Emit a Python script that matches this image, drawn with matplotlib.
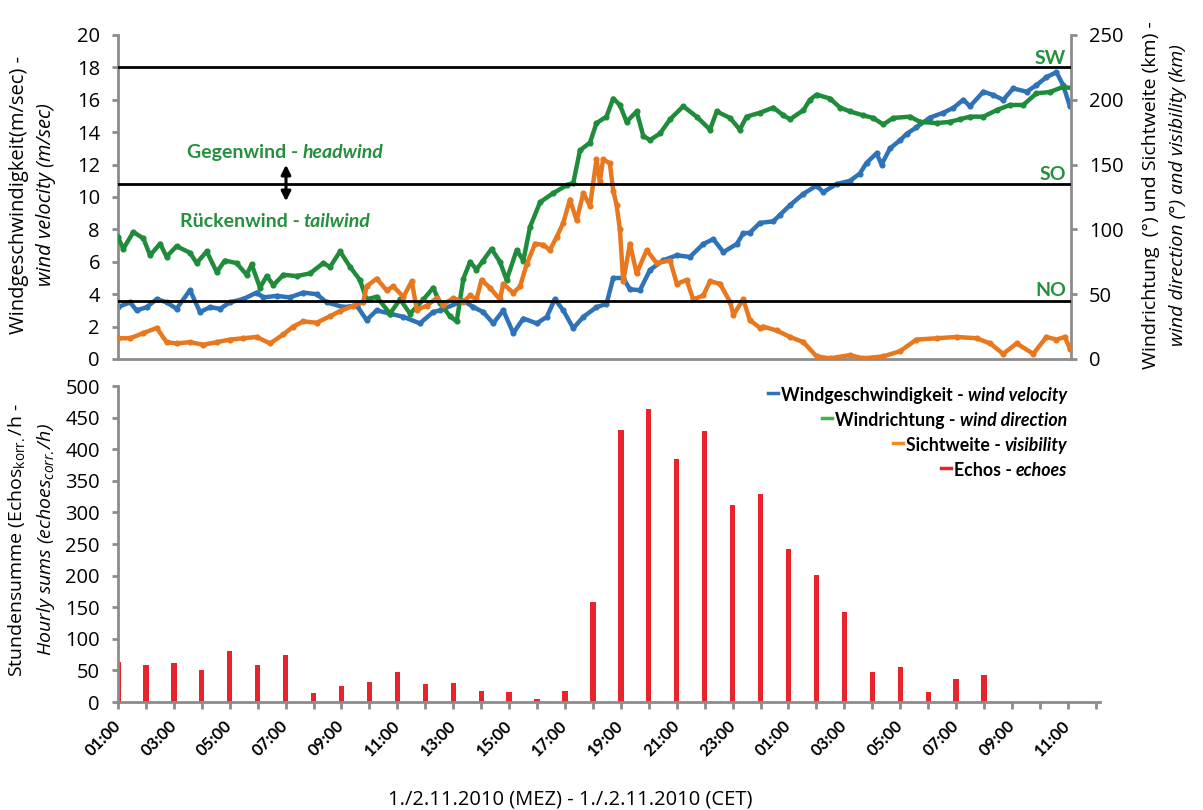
import matplotlib
matplotlib.use("Agg")
import matplotlib.pyplot as plt
from matplotlib.patches import FancyArrowPatch
import numpy as np

# ---- data -----------------------------------------------------------------
# hours counted from 01:00 on 1.11.2010
speed_h = [0.0, 0.43, 0.67, 1.03, 1.39, 1.74, 2.10, 2.58, 2.94, 3.30, 3.66, 4.01,
           4.49, 4.97, 5.21, 5.69, 6.16, 6.64, 7.12, 7.48, 8.08, 8.56, 8.91, 9.27,
           9.75, 10.23, 10.82, 11.30, 11.54, 12.38, 12.74, 13.09, 13.45, 13.81,
           14.17, 14.53, 15.01, 15.37, 15.66, 15.96, 16.32, 16.68, 17.15, 17.51,
           17.75, 18.11, 18.35, 18.71, 19.07, 19.55, 20.03, 20.50, 20.98, 21.34,
           21.70, 22.18, 22.41, 22.65, 23.01, 23.49, 23.73, 24.09, 24.57, 25.04,
           25.28, 25.76, 26.24, 26.59, 26.83, 27.19, 27.37, 27.67, 28.03, 28.27,
           28.62, 29.10, 29.58, 29.94, 30.30, 30.54, 31.02, 31.37, 31.73, 32.09,
           32.57, 32.92, 33.28, 33.64, 33.88, 34.12]
speed_ms = [3.2, 3.5, 3.0, 3.2, 3.7, 3.5, 3.1, 4.25, 2.9, 3.2, 3.1, 3.5,
            3.7, 4.1, 3.8, 3.9, 3.8, 4.1, 4.0, 3.5, 3.2, 3.3, 2.4, 3.0,
            2.8, 2.6, 2.2, 2.9, 3.0, 3.6, 3.2, 2.9, 2.2, 3.0,
            1.6, 2.5, 2.2, 2.6, 3.7, 3.0, 1.9, 2.6, 3.2, 3.4,
            5.0, 5.0, 4.3, 4.25, 5.5, 6.1, 6.4, 6.3, 7.1, 7.4,
            6.6, 7.1, 7.75, 7.8, 8.4, 8.5, 8.9, 9.5, 10.2, 10.7,
            10.3, 10.8, 11.0, 11.45, 12.1, 12.7, 12.0, 13.0, 13.5, 13.9,
            14.3, 14.9, 15.2, 15.5, 16.0, 15.6, 16.5, 16.3, 16.0, 16.7,
            16.5, 16.9, 17.4, 17.7, 16.9, 15.6]

dir_h = [0.0, 0.19, 0.55, 0.91, 1.15, 1.51, 1.74, 2.10, 2.58, 2.82, 3.18, 3.54,
         3.83, 4.25, 4.61, 4.79, 5.09, 5.33, 5.57, 5.93, 6.40, 6.88, 7.36, 7.60,
         7.96, 8.32, 8.67, 8.91, 9.27, 9.75, 10.11, 10.47, 10.95, 11.30, 11.54,
         11.90, 12.14, 12.38, 12.62, 12.85, 13.09, 13.39, 13.69, 13.93, 14.29,
         14.53, 14.77, 15.13, 15.60, 16.08, 16.32, 16.56, 16.92, 17.15, 17.51,
         17.75, 17.99, 18.23, 18.59, 18.83, 19.07, 19.43, 19.79, 20.26, 20.74,
         21.22, 21.46, 21.94, 22.29, 22.53, 23.01, 23.49, 23.85, 24.09, 24.57,
         24.80, 25.04, 25.52, 25.88, 26.24, 26.71, 27.07, 27.43, 27.79, 28.39,
         28.74, 29.34, 29.82, 30.18, 30.54, 31.02, 31.49, 31.97, 32.45, 32.92,
         33.40, 33.88, 34.18]
dir_deg = [94, 85, 98, 93, 80, 89, 79, 87, 82, 74, 83, 67,
           76, 74, 65, 73, 55, 64, 57, 65, 64, 66, 74, 71,
           83, 71, 61, 46, 48, 35, 46, 35, 46, 55, 43,
           33, 29, 62, 75, 69, 76, 85, 75, 61, 84,
           76, 102, 121, 128, 134, 136, 161, 167, 182, 187,
           201, 196, 183, 191, 172, 169, 174, 185, 195, 187,
           177, 191, 186, 177, 187, 190, 194, 188, 185, 192,
           200, 204, 201, 194, 191, 188, 186, 181, 186, 187,
           183, 182, 183, 185, 187, 187, 192, 196, 196, 205,
           206, 210, 209]

vis_h = [0.0, 0.43, 0.91, 1.39, 1.74, 2.10, 2.58, 3.06, 3.54, 4.01, 4.49, 4.97,
         5.45, 5.93, 6.28, 6.64, 7.12, 7.60, 7.96, 8.44, 8.79, 8.91, 9.27, 9.63,
         9.87, 10.23, 10.53, 10.71, 11.06, 11.42, 11.66, 12.02, 12.38, 12.62,
         12.85, 13.03, 13.33, 13.69, 13.81, 14.17, 14.41, 14.65, 14.95, 15.25,
         15.48, 15.72, 15.96, 16.20, 16.44, 16.68, 16.92, 17.15, 17.27, 17.39,
         17.63, 17.75, 17.87, 17.99, 18.11, 18.35, 18.59, 18.95, 19.31, 19.79,
         20.03, 20.38, 20.62, 20.98, 21.22, 21.58, 21.94, 22.06, 22.41, 22.65,
         23.01, 23.13, 23.61, 24.09, 24.57, 25.04, 25.52, 26.24, 26.71, 27.43,
         28.03, 28.62, 29.34, 30.06, 30.78, 31.26, 31.73, 32.21, 32.81, 33.28,
         33.64, 33.94, 34.12]
vis_km = [16, 16, 20, 24, 13, 12, 13, 11, 13, 15, 16, 17,
          12, 19, 25, 29, 28, 33, 37, 41, 44, 56, 62, 53,
          56, 48, 60, 38, 41, 47, 42, 47, 44, 49,
          46, 61, 55, 46, 58, 51, 56, 73, 89, 88,
          84, 94, 105, 123, 107, 128, 118, 154, 137, 154,
          151, 130, 119, 100, 60, 89, 66, 84, 74, 76,
          58, 61, 46, 49, 60, 58, 44, 34, 46, 30,
          24, 25, 22, 17, 13, 2, 0.5, 3, 0.5, 2,
          6, 15, 16, 17, 16, 12, 4, 12, 4, 17,
          15, 17, 8]

# hourly echo sums, 01:00 (1.11.) to 08:00 (2.11.)
echo_counts = [63, 59, 62, 51, 80, 59, 75, 15, 25, 31, 47, 28, 30, 17, 16, 5,
               17, 159, 431, 463, 385, 429, 312, 329, 242, 201, 142, 48, 56,
               16, 36, 42]

start_hour = 1
n_ticks = 36
sector_deg = [225, 135, 45]
sector_names = ["SW", "SO", "NO"]

# ---- styling ---------------------------------------------------------------
W, H = 1203, 810
BLUE = "#2E72B8"
GREEN = "#1F8C3B"
ORANGE = "#E9771E"
RED = "#E8242A"
GRAY = "#8C8C8C"
TXT_GREEN = "#24903C"

plt.rcParams["font.family"] = ["Open Sans", "DejaVu Sans"]
plt.rcParams["mathtext.fontset"] = "custom"
plt.rcParams["mathtext.rm"] = "Open Sans"
plt.rcParams["mathtext.it"] = "Open Sans:italic"

fig = plt.figure(figsize=(W / 100, H / 100), dpi=100)


def box(l, t, r, b):
    return [l / W, 1 - b / H, (r - l) / W, (b - t) / H]


def fx(px):
    return px / W


def fy(py):
    return 1 - py / H


def style_spines(ax, visible):
    for name, sp in ax.spines.items():
        sp.set_visible(name in visible)
        sp.set_color(GRAY)
        sp.set_linewidth(2)


ax1 = fig.add_axes(box(118, 35, 1071, 359))
ax2 = ax1.twinx()
ax3 = fig.add_axes(box(118, 386, 1100, 702))

# top panel
line_kw = dict(lw=3.2, marker="o", ms=3.4, solid_joinstyle="round")
ax1.plot(speed_h, speed_ms, color=BLUE, zorder=2, **line_kw)
ax2.plot(dir_h, dir_deg, color=GREEN, zorder=2, **line_kw)
ax2.plot(vis_h, vis_km, color=ORANGE, zorder=3, **line_kw)
for v in sector_deg:
    ax2.axhline(v, color="black", lw=2, zorder=5)

ax1.set_xlim(0, 34.16)
ax1.set_ylim(0, 20)
ax1.set_yticks(np.arange(0, 21, 2))
ax2.set_ylim(0, 250)
ax2.set_yticks(np.arange(0, 251, 50))
style_spines(ax1, ["left", "bottom"])
style_spines(ax2, ["right"])
ax1.tick_params(axis="x", bottom=False, labelbottom=False)
ax1.tick_params(axis="y", direction="out", length=4, width=2, color=GRAY,
                labelsize=14.5, pad=9)
ax2.tick_params(axis="y", direction="out", length=4, width=2, color=GRAY,
                labelsize=14.5, pad=9)

# bottom panel
xb = np.arange(len(echo_counts))
ax3.bar(xb, echo_counts, width=0.19, color=RED, zorder=2)
ax3.set_xlim(0, 35.15)
ax3.set_ylim(0, 500)
ax3.set_yticks(np.arange(0, 501, 50))
style_spines(ax3, ["left", "bottom"])
ticks = np.arange(n_ticks)
ax3.set_xticks(ticks)
labels = [f"{(start_hour + i) % 24:02d}:00" if i % 2 == 0 else "" for i in ticks]
ax3.set_xticklabels(labels, rotation=45, ha="right", va="center",
                    rotation_mode="anchor", fontfamily="Lato",
                    fontweight="bold", fontsize=12)
ax3.tick_params(axis="x", direction="out", length=5, width=2, color=GRAY, pad=10)
ax3.tick_params(axis="y", direction="out", length=4, width=2, color=GRAY,
                labelsize=14.5, pad=9)

# axis titles
fig.text(fx(19), fy(195), "Windgeschwindigkeit(m/sec) -", rotation=90,
         ha="center", va="center", fontsize=14.5)
fig.text(fx(46), fy(195), "wind velocity (m/sec)", rotation=90,
         ha="center", va="center", fontsize=14.5, fontstyle="italic")
fig.text(fx(1151), fy(195), "Windrichtung  (°) und Sichtweite (km) -",
         rotation=90, ha="center", va="center", fontsize=14)
fig.text(fx(1178), fy(195), "wind direction (°) and visibility (km)",
         rotation=90, ha="center", va="center", fontsize=14, fontstyle="italic")
fig.text(fx(17), fy(540), r"Stundensumme (Echos$_{\mathrm{korr.}}$/h -",
         rotation=90, ha="center", va="center", fontsize=14)
fig.text(fx(46), fy(540), r"Hourly sums (echoes$_{corr.}$/h)",
         rotation=90, ha="center", va="center", fontsize=14, fontstyle="italic")
fig.text(fx(570), fy(800), "1./2.11.2010 (MEZ) - 1./.2.11.2010 (CET)",
         ha="center", va="center", fontsize=14.5)

renderer = fig.canvas.get_renderer()


def rich(x, y, parts, align="left", gap=4, **kw):
    """Draw text pieces side by side; returns (left, right) in pixels."""
    order = parts if align == "left" else parts[::-1]
    cur = x
    edges = []
    for s, style in order:
        t = fig.text(fx(cur), fy(y), s, ha=align, va="center_baseline",
                     fontstyle=style, **kw)
        bb = t.get_window_extent(renderer)
        edges += [bb.x0, bb.x1]
        cur = bb.x1 + gap if align == "left" else bb.x0 - gap
    return min(edges), max(edges)


# headwind / tailwind annotation
bold_green = dict(color=TXT_GREEN, fontweight="bold", fontsize=14, fontfamily="Lato")
rich(187, 151, [("Gegenwind -", "normal"), ("headwind", "italic")], **bold_green)
rich(180, 220, [("Rückenwind -", "normal"), ("tailwind", "italic")], **bold_green)
fig.add_artist(FancyArrowPatch(
    (fx(286), fy(162)), (fx(286), fy(204)), transform=fig.transFigure,
    arrowstyle="<|-|>", mutation_scale=14, lw=2.2, color="black"))

for name, y in zip(sector_names, [58, 175, 290]):
    fig.text(fx(1066), fy(y), name, ha="right", va="center", **bold_green)

# legend
leg_rows = [
    ("Windgeschwindigkeit -", "wind velocity", BLUE),
    ("Windrichtung -", "wind direction", "#3DB54B"),
    ("Sichtweite -", "visibility", "#F08A24"),
    ("Echos -", "echoes", RED),
]
for (de, en, col), y in zip(leg_rows, [394, 419, 444, 469]):
    left, _ = rich(1067, y, [(de, "normal"), (en, "italic")], align="right",
                   gap=4, color="black", fontweight="bold", fontsize=12.8,
                   fontfamily="Lato")
    fig.add_artist(plt.Line2D([fx(left - 13), fx(left - 3)], [fy(y - 1), fy(y - 1)],
                              transform=fig.transFigure, color=col, lw=2.5))

fig.savefig("out.png", dpi=100, facecolor="white")
